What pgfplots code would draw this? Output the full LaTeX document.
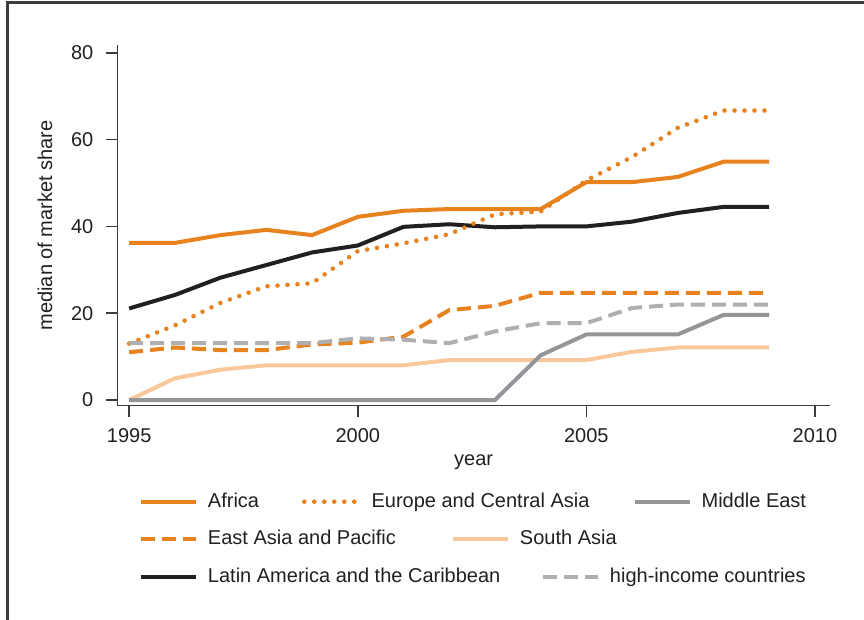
\documentclass[border=0pt]{standalone}
\usepackage{fontspec}
\setmainfont{Liberation Sans}
\usepackage{pgfplots}
\usepackage{pgfplotstable}
\pgfplotsset{compat=1.18}

\definecolor{orangeC}{RGB}{232,130,30}
\definecolor{blackC}{RGB}{35,31,32}
\definecolor{meGray}{RGB}{147,149,152}
\definecolor{hiGray}{RGB}{173,175,178}
\definecolor{saPeach}{RGB}{248,200,154}
\definecolor{textC}{RGB}{35,31,32}
\definecolor{axisC}{RGB}{60,60,60}

\tikzset{
  africa/.style={color=orangeC, line width=2pt},
  eastasia/.style={color=orangeC, line width=2pt, dash pattern=on 7pt off 3.5pt},
  latin/.style={color=blackC, line width=2pt},
  europe/.style={color=orangeC, line width=2.3pt, line cap=round, dash pattern=on 0pt off 5pt},
  southasia/.style={color=saPeach, line width=2pt},
  highinc/.style={color=hiGray, line width=2pt, dash pattern=on 7pt off 3.5pt},
  mideast/.style={color=meGray, line width=2pt},
}

% median market share by region
\pgfplotstableread{
year Africa EastAsia Latin Europe SouthAsia HighInc MidEast
1995 36.2 11.0 21.1 13.0 0   13.1 0
1996 36.2 12.1 24.2 17.2 5.0 13.1 0
1997 38.0 11.5 28.2 22.4 7.0 13.1 0
1998 39.2 11.5 31.1 26.2 8.0 13.1 0
1999 38.0 12.8 34.0 26.9 8.0 13.1 0
2000 42.2 13.2 35.6 34.3 8.0 14.2 0
2001 43.6 14.6 39.9 36.1 8.0 13.9 0
2002 44.0 20.7 40.5 38.2 9.2 13.1 0
2003 44.0 21.7 39.8 42.8 9.2 15.8 0
2004 44.0 24.7 40.0 43.4 9.2 17.7 10.3
2005 50.2 24.7 40.0 50.6 9.2 17.7 15.1
2006 50.2 24.7 41.1 56.0 11.1 21.2 15.1
2007 51.4 24.7 43.1 62.7 12.1 22.0 15.1
2008 54.9 24.7 44.5 66.7 12.1 22.0 19.6
2009 54.9 24.7 44.5 66.7 12.1 22.0 19.6
}\sharedata

\pgfplotsset{
  legrow/.style={
    hide axis, scale only axis, width=1pt, height=1pt,
    xmin=0, xmax=1, ymin=0, ymax=1,
    anchor=south west,
    legend columns=-1,
    legend cell align=left,
    legend image code/.code={\draw[##1] (0pt,0pt) -- (27.5pt,0pt);},
    legend style={at={(0,0)}, anchor=west, draw=none, fill=none,
      inner sep=0pt, outer sep=0pt,
      nodes={inner sep=0pt, text=textC, font=\fontsize{10}{12}\selectfont},
      /tikz/every odd column/.append style={column sep=5pt},
      /tikz/every even column/.append style={column sep=0pt}},
  },
}

\begin{document}
\begin{tikzpicture}
\useasboundingbox (0pt,0pt) rectangle (432pt,310pt);
\draw[axisC, line width=1.5pt] (3.5pt,0pt) -- (3.5pt,308.5pt) -- (432pt,308.5pt);

\begin{axis}[
  at={(58.65pt,107.15pt)}, anchor=south west,
  scale only axis, width=356.35pt, height=180.35pt,
  xmin=1994.74, xmax=2010.33, ymin=-1.31, ymax=81.8,
  axis x line*=bottom, axis y line*=left,
  axis line style={axisC, line width=0.8pt, -},
  xtick={1995,2000,2005,2010}, ytick={0,20,40,60,80},
  tick align=outside, major tick length=5.5pt,
  tick style={axisC, line width=0.8pt},
  xticklabel style={/pgf/number format/1000 sep={}, yshift=-2.5pt},
  yticklabel style={xshift=-3pt},
  /pgf/number format/assume math mode=true,
  tick label style={font=\fontsize{10}{12}\selectfont, text=textC},
  label style={font=\fontsize{10}{12}\selectfont, text=textC},
  xlabel={year}, ylabel={median of market share},
  xlabel style={at={(axis description cs:0.5,-0.166)}, anchor=base},
  ylabel style={at={(axis description cs:-0.0913,0.5)}, anchor=base, rotate=0},
  no markers,
  clip=false,
]
\addplot[africa]    table[x=year, y=Africa]    {\sharedata};
\addplot[eastasia]  table[x=year, y=EastAsia]  {\sharedata};
\addplot[latin]     table[x=year, y=Latin]     {\sharedata};
\addplot[europe]    table[x=year, y=Europe]    {\sharedata};
\addplot[southasia] table[x=year, y=SouthAsia] {\sharedata};
\addplot[highinc]   table[x=year, y=HighInc]   {\sharedata};
\addplot[mideast]   table[x=year, y=MidEast]   {\sharedata};
\end{axis}

% legend, row 1
\begin{axis}[legrow, at={(69.5pt,59.15pt)}]
\addlegendimage{africa}
\addlegendentry{\makebox[47pt][l]{Africa}}
\addlegendimage{europe}
\addlegendentry{\makebox[130.5pt][l]{Europe and Central Asia}}
\addlegendimage{mideast}
\addlegendentry{Middle East}
\end{axis}
% legend, row 2
\begin{axis}[legrow, at={(69.5pt,40.5pt)}]
\addlegendimage{eastasia}
\addlegendentry{\makebox[121.5pt][l]{East Asia and Pacific}}
\addlegendimage{southasia}
\addlegendentry{South Asia}
\end{axis}
% legend, row 3
\begin{axis}[legrow, at={(69.5pt,21.5pt)}]
\addlegendimage{latin}
\addlegendentry{\makebox[166.5pt][l]{Latin America and the Caribbean}}
\addlegendimage{highinc}
\addlegendentry{high-income countries}
\end{axis}
\end{tikzpicture}
\end{document}
